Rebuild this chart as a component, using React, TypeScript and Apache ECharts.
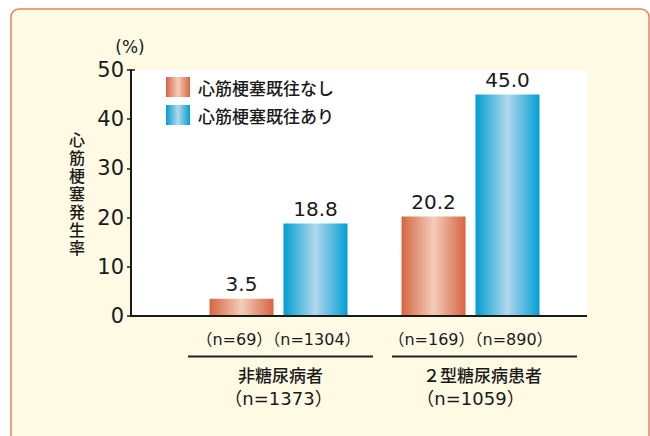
import React, { useEffect, useRef } from "react";
import * as echarts from "echarts";

const categories = ["非糖尿病者", "２型糖尿病患者"];
const groupTotals = [1373, 1059];
const seriesNames = ["心筋梗塞既往なし", "心筋梗塞既往あり"];
const noHistoryValues = [3.5, 20.2];
const historyValues = [18.8, 45.0];
const noHistoryN = [69, 169];
const historyN = [1304, 890];
const yTicks = [0, 10, 20, 30, 40, 50];
const yAxisTitle = "心筋梗塞発生率";
const unitLabel = "(%)";

const LATIN = "'DejaVu Sans', 'Noto Sans CJK JP', sans-serif";
const CJK = "'Noto Sans CJK JP', 'DejaVu Sans', sans-serif";
const INK = "#1a1a1a";

const sepShift = [4, 28];
const nameShift = [4, 24];

export default function App() {
  const ref = useRef<HTMLDivElement>(null);
  useEffect(() => {
    if (!ref.current) return;
    const chart = echarts.init(ref.current, undefined, { renderer: "svg" });
    const orange = new echarts.graphic.LinearGradient(0, 0, 1, 0, [
      { offset: 0, color: "#d66543" },
      { offset: 0.5, color: "#f3cdb9" },
      { offset: 1, color: "#d66543" },
    ]);
    const blue = new echarts.graphic.LinearGradient(0, 0, 1, 0, [
      { offset: 0, color: "#009fd3" },
      { offset: 0.5, color: "#b3d8ec" },
      { offset: 1, color: "#009fd3" },
    ]);
    const label = {
      show: true,
      position: "top",
      distance: 5,
      fontSize: 20,
      fontFamily: LATIN,
      color: INK,
      formatter: (p: any) => Number(p.value).toFixed(1),
    };
    const titleChars = yAxisTitle.split("").map((ch, i) => ({
      type: "text",
      x: 77,
      y: 139 + i * 18,
      style: {
        text: ch,
        fontSize: 16,
        fontWeight: 500,
        fontFamily: CJK,
        fill: INK,
        textAlign: "center",
        textVerticalAlign: "middle",
      },
    }));
    chart.setOption({
      animation: false,
      backgroundColor: "#ffffff",
      graphic: [
        {
          type: "rect",
          z: -20,
          shape: { x: 11, y: 9, width: 638, height: 460, r: 8 },
          style: { fill: "#fefae4", stroke: "#e2835f", lineWidth: 1.5 },
          silent: true,
        },
        {
          type: "rect",
          z: -10,
          shape: { x: 131, y: 70, width: 456, height: 246 },
          style: { fill: "#ffffff" },
          silent: true,
        },
        {
          type: "line",
          z: 10,
          shape: { x1: 130, y1: 316, x2: 587, y2: 316 },
          style: { stroke: "#1a1a1a", lineWidth: 2 },
          silent: true,
        },
        {
          type: "line",
          z: 10,
          shape: { x1: 131, y1: 70, x2: 135, y2: 70 },
          style: { stroke: "#1a1a1a", lineWidth: 1.5 },
          silent: true,
        },
        {
          type: "text",
          x: 130,
          y: 47,
          style: {
            text: unitLabel,
            fontSize: 17,
            fontFamily: LATIN,
            fill: INK,
            textAlign: "center",
            textVerticalAlign: "middle",
          },
        },
        ...titleChars,
      ],
      legend: {
        left: 166,
        top: 77,
        orient: "vertical",
        itemWidth: 24,
        itemHeight: 20,
        itemGap: 8,
        padding: 0,
        icon: "rect",
        data: seriesNames,
        textStyle: { fontSize: 17, fontWeight: 500, fontFamily: CJK, color: INK, padding: [0, 0, 0, 3] },
      },
      grid: { left: 182.5, top: 70, width: 384, height: 246 },
      xAxis: {
        type: "category",
        data: categories,
        axisLine: { show: false },
        axisTick: { show: false },
        axisLabel: {
          margin: 13,
          interval: 0,
          color: INK,
          formatter: (value: string, idx: number) =>
            `{n|（n=${noHistoryN[idx]}）（n=${historyN[idx]}）}\n` +
            `{sp${idx}|}{sep|}\n` +
            `{nm${idx}|}{g|${value}}\n` +
            `{gn|（n=${groupTotals[idx]}）}`,
          rich: {
            n: { fontSize: 16, lineHeight: 21, fontFamily: LATIN, color: INK, align: "center" },
            sep: { width: 185, height: 2, backgroundColor: "#222222", lineHeight: 13, align: "center" },
            sp0: { width: sepShift[0], height: 2, lineHeight: 13, align: "center" },
            sp1: { width: sepShift[1], height: 2, lineHeight: 13, align: "center" },
            nm0: { width: nameShift[0], lineHeight: 23, align: "center" },
            nm1: { width: nameShift[1], lineHeight: 23, align: "center" },
            g: { fontSize: 17, fontWeight: 500, lineHeight: 23, fontFamily: CJK, color: INK, align: "center" },
            gn: { fontSize: 18, lineHeight: 24, fontFamily: LATIN, color: INK, align: "center" },
          },
        },
      },
      yAxis: {
        type: "value",
        min: yTicks[0],
        max: yTicks[yTicks.length - 1],
        interval: 10,
        offset: 51.5,
        axisLine: { show: true, lineStyle: { color: "#1a1a1a", width: 2 } },
        axisTick: { show: true, length: 4, lineStyle: { color: "#1a1a1a", width: 1.5 } },
        splitLine: { show: false },
        axisLabel: { fontSize: 21, fontFamily: LATIN, color: INK, margin: 7 },
      },
      series: [
        {
          name: seriesNames[0],
          type: "bar",
          data: noHistoryValues,
          barWidth: 64,
          barGap: "15.6%",
          itemStyle: { color: orange },
          label,
        },
        {
          name: seriesNames[1],
          type: "bar",
          data: historyValues,
          barWidth: 64,
          itemStyle: { color: blue },
          label,
        },
      ],
    });
    return () => chart.dispose();
  }, []);
  return (
    <div
      ref={ref}
      style={{ position: "absolute", left: 0, top: 0, width: 650, height: 436 }}
    />
  );
}
